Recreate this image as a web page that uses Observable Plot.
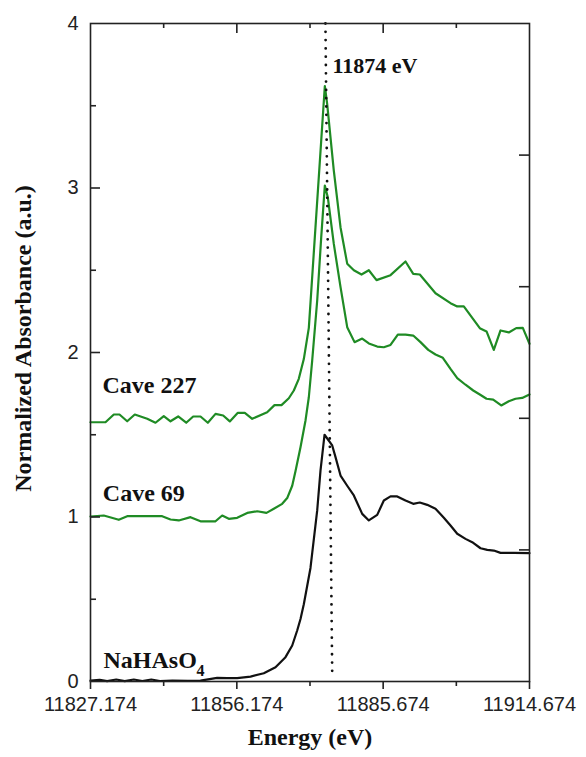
<!DOCTYPE html>
<html><head><meta charset="utf-8">
<script src="https://cdn.jsdelivr.net/npm/d3@7"></script>
<script src="https://cdn.jsdelivr.net/npm/@observablehq/plot@0.6"></script>
<style>body{margin:0;background:#fff}</style>
</head><body><div id="chart"></div>
<script>
// ---- data ----
const cave227Energy = [11827.17,11830.16,11831.82,11832.95,11834.49,11836.00,11838.48,11840.13,11841.78,11843.12,11844.65,11846.25,11847.64,11849.10,11850.56,11852.09,11853.62,11854.94,11856.54,11857.93,11859.41,11862.39,11863.85,11865.24,11866.70,11867.70,11868.69,11869.69,11870.69,11873.88,11874.35,11875.67,11877.01,11878.34,11879.66,11881.19,11882.65,11884.18,11886.97,11889.96,11891.50,11892.81,11895.94,11898.93,11900.27,11901.58,11904.77,11906.11,11907.56,11908.90,11910.55,11912.03,11913.34,11914.67];
const cave227Abs = [1.576,1.576,1.623,1.623,1.582,1.623,1.597,1.573,1.613,1.582,1.611,1.573,1.611,1.611,1.573,1.627,1.617,1.581,1.633,1.633,1.597,1.637,1.680,1.680,1.722,1.769,1.840,1.960,2.150,3.620,3.510,3.106,2.760,2.540,2.500,2.474,2.500,2.440,2.470,2.553,2.478,2.474,2.360,2.300,2.280,2.280,2.148,2.128,2.016,2.134,2.122,2.148,2.150,2.053];

const cave69Energy = [11827.17,11829.82,11832.81,11834.49,11841.46,11843.12,11844.77,11847.11,11849.10,11852.09,11853.42,11854.74,11856.41,11858.41,11860.40,11862.25,11863.71,11865.38,11866.38,11867.38,11868.04,11869.03,11870.03,11870.69,11871.36,11872.36,11873.16,11873.88,11874.47,11875.67,11877.01,11878.34,11879.80,11881.33,11882.65,11884.32,11885.64,11886.97,11888.43,11889.96,11891.50,11892.95,11894.49,11895.94,11897.40,11898.93,11900.27,11901.92,11903.46,11904.77,11906.11,11907.44,11909.04,11910.55,11911.89,11913.22,11914.67];
const cave69Abs = [1.003,1.009,0.983,1.005,1.005,0.985,0.979,0.999,0.974,0.974,1.009,0.989,0.995,1.025,1.035,1.025,1.050,1.080,1.115,1.190,1.280,1.424,1.587,1.728,1.951,2.316,2.700,3.015,2.944,2.660,2.397,2.154,2.063,2.085,2.055,2.036,2.032,2.046,2.109,2.109,2.103,2.063,2.016,1.988,1.968,1.900,1.844,1.804,1.769,1.745,1.719,1.714,1.678,1.704,1.719,1.724,1.745];

const naEnergy = [11827.17,11829.0,11830.5,11832.3,11834.0,11835.8,11837.5,11839.3,11841.0,11843.5,11846.5,11849.10,11852.42,11854.41,11856.41,11859.07,11861.72,11864.05,11866.04,11867.38,11868.37,11869.03,11869.69,11871.02,11872.36,11873.02,11873.82,11875.35,11876.01,11877.01,11878.34,11879.66,11881.33,11882.65,11884.32,11885.64,11886.97,11888.31,11889.96,11891.50,11892.81,11894.29,11895.94,11897.60,11898.93,11900.27,11901.92,11903.26,11904.91,11906.25,11907.56,11908.90,11911.55,11914.67];
const naAbs = [0.005,0.010,0.002,0.012,0.002,0.012,0.003,0.012,0.003,0.006,0.004,0.005,0.022,0.020,0.020,0.030,0.050,0.087,0.148,0.219,0.310,0.380,0.470,0.690,1.040,1.283,1.500,1.435,1.364,1.252,1.190,1.131,1.019,0.979,1.013,1.100,1.125,1.125,1.100,1.080,1.088,1.074,1.050,0.995,0.948,0.898,0.867,0.847,0.810,0.800,0.796,0.782,0.782,0.780];

const markerEnergy = [11874.0, 11875.35];
const markerAbs = [4.0, 0.05];

const xTickLabels = ["11827.174","11856.174","11885.674","11914.674"];
const yTickValues = [0,1,2,3,4];
const rightTickValues = [0.8,1.6,2.4,3.2];

const labelTexts = ["Cave 227","Cave 69","NaHAsO"];
const labelEnergy = [11829.57,11829.63,11829.77];
const labelAbs = [1.751,1.10,0.085];

// ---- layout ----
const W = 586, H = 757, mL = 90, mR = 57, mT = 23, mB = 76;
const pw = W - mL - mR, ph = H - mT - mB;
const xDomain = [11827.174, 11914.674];
const xMajor = xTickLabels.map((_, i) => xDomain[0] + i * (xDomain[1] - xDomain[0]) / 3);
const xMinor = xMajor.slice(0, -1).map((v, i) => (v + xMajor[i + 1]) / 2);
const yMinor = d3.range(0.5, 4, 1);
const green = "#1f8b24";
const serif = "'Liberation Serif','Times New Roman',serif";
const sans = "'Liberation Sans',Arial,sans-serif";

const toRows = (e, a) => e.map((x, i) => ({x, y: a[i]}));
const labels = labelTexts.map((t, i) => ({t, x: labelEnergy[i], y: labelAbs[i]}));

const chart = Plot.plot({
  width: W, height: H,
  marginLeft: mL, marginRight: mR, marginTop: mT, marginBottom: mB,
  style: {fontFamily: sans, fontSize: "20px", color: "#222", background: "#fff"},
  x: {domain: xDomain, label: null},
  y: {domain: [0, 4], label: null},
  marks: [
    Plot.line(toRows(cave227Energy, cave227Abs), {x: "x", y: "y", stroke: green, strokeWidth: 2.2}),
    Plot.line(toRows(cave69Energy, cave69Abs), {x: "x", y: "y", stroke: green, strokeWidth: 2.2}),
    Plot.line(toRows(naEnergy, naAbs), {x: "x", y: "y", stroke: "#111", strokeWidth: 2.2}),
    Plot.line(toRows(markerEnergy, markerAbs), {x: "x", y: "y", stroke: "#111", strokeWidth: 2.8, strokeDasharray: "0,8.3", strokeLinecap: "round"}),
    Plot.frame({stroke: "#222", strokeWidth: 1.6}),
    // bottom ticks (outward) and labels
    Plot.axisX(xMajor, {anchor: "bottom", tickSize: 8, tickPadding: 7, strokeWidth: 1.6, fontSize: 20, fontFamily: sans, tickFormat: d => xTickLabels[xMajor.indexOf(d)], label: null}),
    Plot.axisX(xMinor, {anchor: "bottom", tickSize: 5, strokeWidth: 1.6, tickFormat: () => "", label: null}),
    // top ticks (inward)
    Plot.tickX(xMajor.slice(1, -1), {x: d => d, insetBottom: ph - 10, stroke: "#222", strokeWidth: 1.6}),
    Plot.tickX(xMinor, {x: d => d, insetBottom: ph - 5, stroke: "#222", strokeWidth: 1.6}),
    // left ticks (inward) and labels
    Plot.tickY(yTickValues.slice(1, -1), {y: d => d, insetRight: pw - 10, stroke: "#222", strokeWidth: 1.6}),
    Plot.tickY(yMinor, {y: d => d, insetRight: pw - 6, stroke: "#222", strokeWidth: 1.6}),
    Plot.axisY(yTickValues, {anchor: "left", tickSize: 0, tickPadding: 12, fontSize: 20, fontFamily: sans, tickFormat: d => String(d), label: null}),
    // right ticks (inward)
    Plot.tickY(rightTickValues, {y: d => d, insetLeft: pw - 10, stroke: "#222", strokeWidth: 1.6}),
    // annotations
    Plot.text(["11874 eV"], {x: [11875.41], y: [3.70], text: d => d, textAnchor: "start", lineAnchor: "bottom", fontSize: 22, fontWeight: "bold", fontFamily: serif, fill: "#111"}),
    Plot.text(labels, {x: "x", y: "y", text: "t", textAnchor: "start", lineAnchor: "bottom", fontSize: 24, fontWeight: "bold", fontFamily: serif, fill: "#111"}),
    Plot.text(["4"], {x: [11848.3], y: [0.036], text: d => d, textAnchor: "start", lineAnchor: "bottom", fontSize: 16, fontWeight: "bold", fontFamily: serif, fill: "#111"}),
    Plot.text(["Normalized Absorbance (a.u.)"], {frameAnchor: "left", textAnchor: "middle", rotate: -90, dx: -67, dy: -14, text: d => d, fontSize: 24, fontWeight: "bold", fontFamily: serif, fill: "#111"}),
    Plot.text(["Energy (eV)"], {frameAnchor: "bottom", dy: 63, text: d => d, fontSize: 24, fontWeight: "bold", fontFamily: serif, fill: "#111"})
  ]
});
document.getElementById("chart").appendChild(chart);
</script>
</body></html>
